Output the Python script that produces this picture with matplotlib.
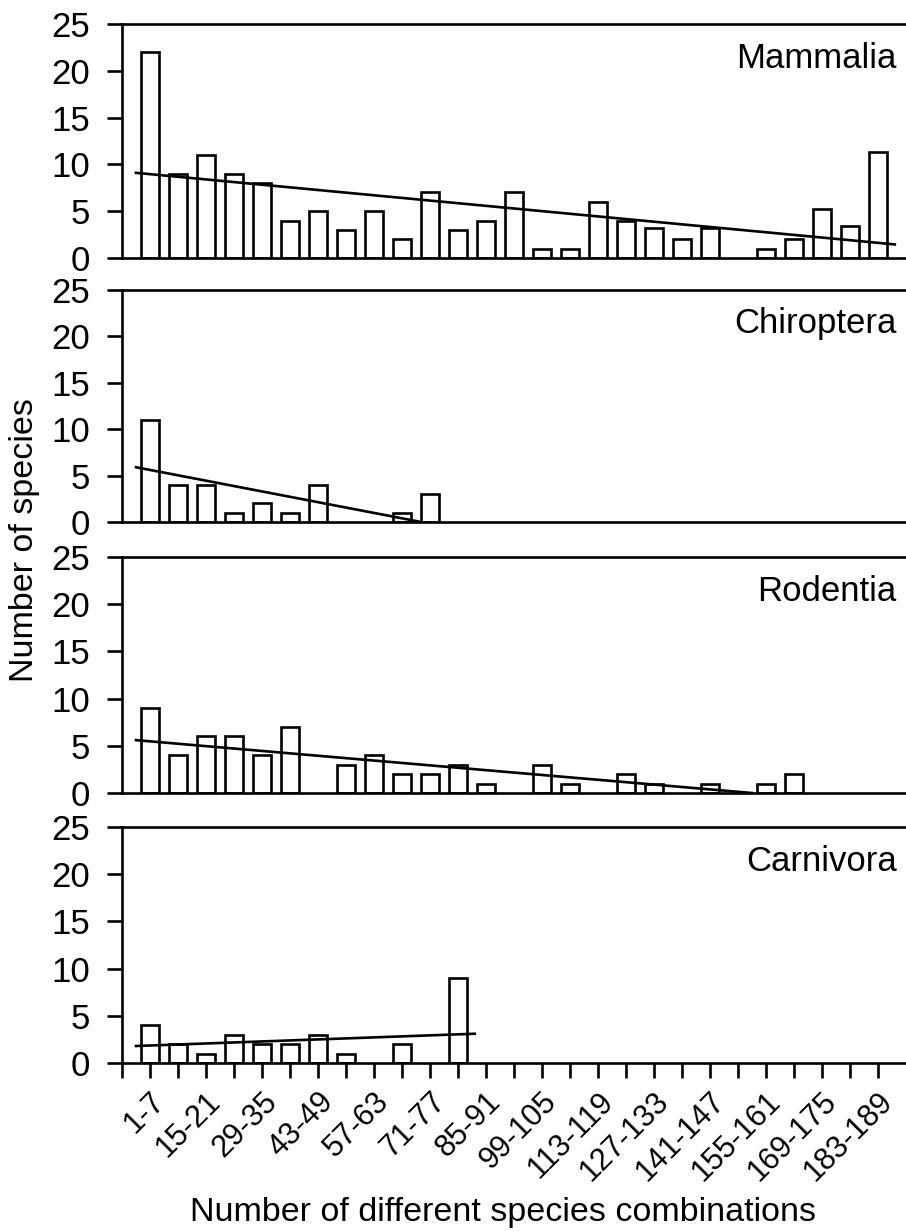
import matplotlib
matplotlib.use("Agg")
import matplotlib.pyplot as plt
import numpy as np

plt.rcParams['font.family'] = ['Liberation Sans', 'DejaVu Sans']

# bins of 7 combinations: 1-7, 8-14, ... 183-189
bin_labels = ["%d-%d" % (a, a + 6) for a in range(1, 190, 7)]

groups = ["Mammalia", "Chiroptera", "Rodentia", "Carnivora"]

mammalia = [22, 9, 11, 9, 8, 4, 5, 3, 5, 2, 7, 3, 4, 7, 1, 1, 6, 4, 3.2, 2, 3.2, 0, 1, 2, 5.2, 3.4, 11.3]
chiroptera = [11, 4, 4, 1, 2, 1, 4, 0, 0, 1, 3, 0, 0, 0, 0, 0, 0, 0, 0, 0, 0, 0, 0, 0, 0, 0, 0]
rodentia = [9, 4, 6, 6, 4, 7, 0, 3, 4, 2, 2, 3, 1, 0, 3, 1, 0, 2, 1, 0, 1, 0, 1, 2, 0, 0, 0]
carnivora = [4, 2, 1, 3, 2, 2, 3, 1, 0, 2, 0, 9, 0, 0, 0, 0, 0, 0, 0, 0, 0, 0, 0, 0, 0, 0, 0]

# fitted trend lines, (x start, x end) in bin index and (y start, y end)
trend_x = [(-0.5, 26.6), (-0.5, 9.6), (-0.5, 21.5), (-0.5, 11.6)]
trend_y = [(9.1, 1.45), (5.9, 0.05), (5.6, 0.0), (1.8, 3.1)]

values = [mammalia, chiroptera, rodentia, carnivora]

fig = plt.figure(figsize=(9.06, 12.31), dpi=100)

# panel boxes in pixels (top, bottom) measured from the top of the figure
H = 1231.0
boxes = [(24, 258), (290, 522), (557, 793), (827, 1063)]
left = 122 / 906.0
width = 1 - left
lw = 1.9

x = np.arange(len(bin_labels))
for i, name in enumerate(groups):
    top, bot = boxes[i]
    ax = fig.add_axes([left, 1 - bot / H, width, (bot - top) / H])
    v = np.array(values[i], dtype=float)
    keep = v > 0  # empty bins get no outline
    ax.bar(x[keep], v[keep], width=0.64, facecolor='white', edgecolor='black', linewidth=lw, zorder=2)
    ax.plot(trend_x[i], trend_y[i], color='black', linewidth=lw, zorder=3)
    ax.set_xlim(-1, 27)
    ax.set_ylim(0, 25)
    ax.set_yticks([0, 5, 10, 15, 20, 25])
    ax.tick_params(axis='y', direction='out', length=11, width=lw, labelsize=25, pad=12)
    ax.spines['right'].set_visible(False)
    for s in ['left', 'top', 'bottom']:
        ax.spines[s].set_linewidth(lw)
    ax.text(0.988, 0.925, name, transform=ax.transAxes, ha='right', va='top', fontsize=25)
    if i < 3:
        ax.set_xticks([])
    else:
        ax.set_xticks(np.arange(-1, 27))
        labs = [""] + [lab if k % 2 == 0 else "" for k, lab in enumerate(bin_labels)]
        ax.set_xticklabels(labs, rotation=45, ha='right', va='top', rotation_mode='anchor')
        ax.tick_params(axis='x', direction='out', length=11, width=lw, labelsize=22, pad=6)

fig.text(0.555, 1 - 1212 / H, "Number of different species combinations", ha='center', va='center', fontsize=24.5)
fig.text(0.027, 1 - 540 / H, "Number of species", ha='center', va='center', rotation=90, fontsize=24.5)

fig.savefig("out.png", dpi=100)
